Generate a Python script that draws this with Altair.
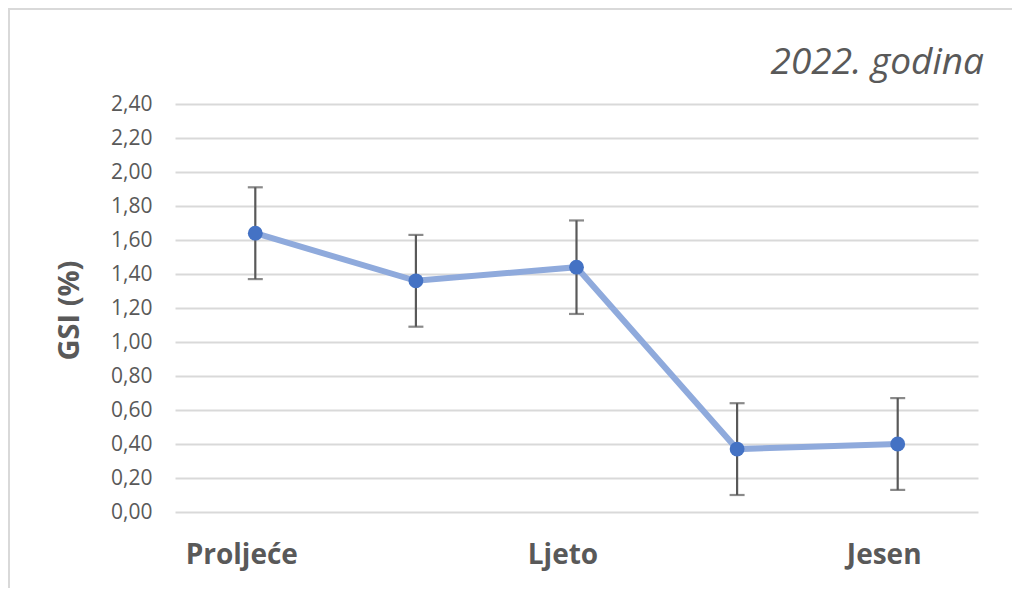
import json
import altair as alt
import pandas as pd

# ---- data ----
idx = [1, 2, 3, 4, 5]
gsi = [1.64, 1.36, 1.44, 0.37, 0.40]
err = [0.27, 0.27, 0.275, 0.27, 0.27]
x_labels = ["Proljeće", "Ljeto", "Jesen"]
x_label_pos = [1, 3, 5]
y_ticks = [0.0, 0.2, 0.4, 0.6, 0.8, 1.0, 1.2, 1.4, 1.6, 1.8, 2.0, 2.2, 2.4]
title_text = "2022. godina"
y_title = "GSI (%)"

df = pd.DataFrame({
    "idx": idx,
    "gsi": gsi,
    "lo": [g - e for g, e in zip(gsi, err)],
    "hi": [g + e for g, e in zip(gsi, err)],
})

FONT = "Open Sans"
GREY = "#595959"

label_map = json.dumps({str(p): l for p, l in zip(x_label_pos, x_labels)}, ensure_ascii=False)

x_scale = alt.Scale(domain=[0.5, 5.5], nice=False, zero=False)
x_axis = alt.Axis(
    values=x_label_pos,
    labelExpr=f"{label_map}[''+datum.value]",
    title=None, grid=False, domain=False, ticks=False,
    labelFont=FONT, labelFontSize=28, labelFontWeight="bold",
    labelColor=GREY, labelPadding=29, labelOffset=-14,
)
y_scale = alt.Scale(domain=[0, 2.4], nice=False)
y_axis = alt.Axis(
    values=y_ticks,
    labelExpr="replace(format(datum.value, '.2f'), '.', ',')",
    labelOverlap=False,
    title=y_title, titleFont=FONT, titleFontSize=29, titleFontWeight="bold",
    titleColor=GREY, titleX=-106, titleY=206, titleAngle=270,
    titleAlign="center", titleBaseline="middle",
    grid=True, gridColor="#d9d9d9", gridWidth=2,
    domain=False, ticks=False,
    labelFont=FONT, labelFontSize=21, labelColor=GREY, labelPadding=23,
)


def X():
    return alt.X("idx:Q", scale=x_scale, axis=x_axis)


def Y(field):
    return alt.Y(f"{field}:Q", scale=y_scale, axis=y_axis, title=y_title)


base = alt.Chart(df)

line = base.mark_line(color="#8faadc", strokeWidth=6).encode(x=X(), y=Y("gsi"))
rules = base.mark_rule(color=GREY, strokeWidth=2.2).encode(
    x=X(), y=Y("lo"), y2="hi:Q"
)
cap_lo = base.mark_tick(color=GREY, thickness=2.2, size=15, orient="horizontal").encode(
    x=X(), y=Y("lo")
)
cap_hi = base.mark_tick(color=GREY, thickness=2.2, size=15, orient="horizontal").encode(
    x=X(), y=Y("hi")
)
points = base.mark_circle(color="#4472c4", size=220, opacity=1).encode(x=X(), y=Y("gsi"))

frame = alt.Chart(pd.DataFrame({"k": [0]})).mark_rect(
    fill=None, stroke="#d9d9d9", strokeWidth=2
).encode(
    x=alt.value(-166), y=alt.value(-95), x2=alt.value(1000), y2=alt.value(800)
)

chart = alt.layer(frame, line, rules, cap_lo, cap_hi, points).properties(
    width=803,
    height=408,
    title=alt.TitleParams(
        title_text, anchor="end", frame="group", font=FONT, fontSize=37,
        fontStyle="italic", fontWeight="normal", color=GREY,
        baseline="alphabetic", offset=-103, dx=6,
    ),
    autosize=alt.AutoSizeParams(type="none"),
    padding={"left": 167, "top": 96, "right": 34, "bottom": 76},
).configure_view(stroke=None)

chart.save("out.html", embed_options={"renderer": "svg", "actions": False})
